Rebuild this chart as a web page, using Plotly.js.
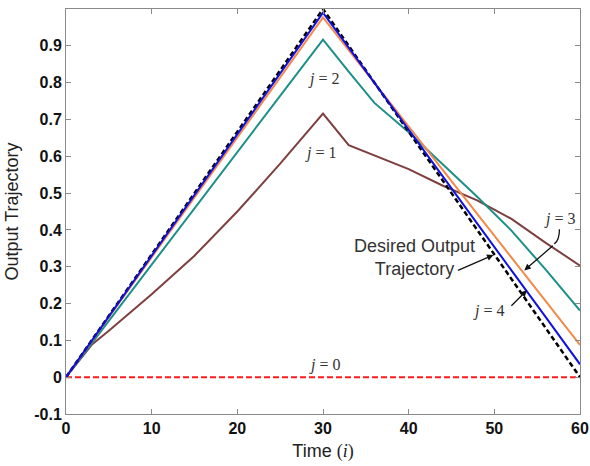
<!DOCTYPE html>
<html>
<head>
<meta charset="utf-8">
<script src="https://cdn.plot.ly/plotly-3.0.1.min.js"></script>
<style>html,body{margin:0;padding:0;background:#fff;}#chart{width:590px;height:466px;}</style>
</head>
<body>
<div id="chart"></div>
<script>
// ---- data ----
var time = [0, 3, 5, 10, 15, 20, 25, 30, 33, 36, 40, 44, 48, 52, 56, 60];
var desiredTime = [0, 30, 60];
var desired = [0, 1, 0];
var j0Time = [0, 60];
var j0 = [0, 0];
var j1 = [0, 0.088, 0.126, 0.225, 0.33, 0.45, 0.58, 0.716, 0.63, 0.603, 0.565, 0.52, 0.48, 0.43, 0.365, 0.303];
var j2 = [0, 0.092, 0.153, 0.306, 0.458, 0.611, 0.764, 0.917, 0.83, 0.745, 0.665, 0.578, 0.49, 0.398, 0.292, 0.181];
var j3 = [0, 0.098, 0.163, 0.326, 0.488, 0.651, 0.814, 0.977, 0.888, 0.799, 0.68, 0.562, 0.443, 0.325, 0.207, 0.088];
var j4 = [0, 0.099, 0.165, 0.33, 0.495, 0.66, 0.825, 0.99, 0.895, 0.8, 0.673, 0.545, 0.417, 0.29, 0.163, 0.035];
var yTickVals = [-0.1, 0, 0.1, 0.2, 0.3, 0.4, 0.5, 0.6, 0.7, 0.8, 0.9];
var yTickText = ['-0.1', '0', '0.1', '0.2', '0.3', '0.4', '0.5', '0.6', '0.7', '0.8', '0.9'];
var xTickVals = [0, 10, 20, 30, 40, 50, 60];

// ---- chart ----
var serif = '"Liberation Serif", "DejaVu Serif", serif';
var sans = 'Arial, "Liberation Sans", sans-serif';
var lab = {family: serif, size: 16, color: '#333'};

var traces = [
  {x: j0Time, y: j0, mode: 'lines', line: {color: '#ff1a1a', width: 2, dash: '6px,3px'}},
  {x: time, y: j1, mode: 'lines', line: {color: '#7f3f3f', width: 2}},
  {x: time, y: j2, mode: 'lines', line: {color: '#1b9088', width: 2}},
  {x: time, y: j3, mode: 'lines', line: {color: '#f28a4a', width: 2}},
  {x: desiredTime, y: desired, mode: 'lines', line: {color: '#000', width: 2.5, dash: '5px,3px'}},
  {x: time, y: j4, mode: 'lines', line: {color: '#1010e0', width: 2}}
];

var axisCommon = {
  showgrid: false, zeroline: false, showline: true, linecolor: '#8a8a8a', linewidth: 1,
  mirror: 'ticks', ticks: 'inside', ticklen: 5, tickcolor: '#8a8a8a',
  ticklabeloverflow: 'allow',
  tickfont: {family: sans, size: 16, color: '#111', weight: 'bold'}
};

var layout = {
  width: 590, height: 466,
  margin: {l: 66, r: 10, t: 9, b: 52},
  paper_bgcolor: '#fff', plot_bgcolor: '#fff',
  showlegend: false,
  xaxis: Object.assign({}, axisCommon, {
    range: [0, 60], tickvals: xTickVals,
    title: {text: 'Time <span style="font-family:Liberation Serif">(<i>i</i>)</span>', font: {family: sans, size: 18, color: '#222'}, standoff: 8}
  }),
  yaxis: Object.assign({}, axisCommon, {
    range: [-0.1, 1.0], tickvals: yTickVals, ticktext: yTickText,
    title: {text: 'Output Trajectory', font: {family: sans, size: 18, color: '#222'}, standoff: 10}
  }),
  shapes: [
    {type: 'path', xref: 'x', yref: 'y', path: 'M 57.6,0.402 Q 57.6,0.372 57.0,0.362', line: {color: '#111', width: 1.3}}
  ],
  annotations: [
    {x: 30, y: 0.81, text: '<i>j</i> = 2', showarrow: false, font: lab},
    {x: 29.7, y: 0.61, text: '<i>j</i> = 1', showarrow: false, font: lab},
    {x: 57.6, y: 0.43, text: '<i>j</i> = 3', showarrow: false, font: lab},
    {x: 30.2, y: 0.032, text: '<i>j</i> = 0', showarrow: false, font: lab},
    {x: 49.3, y: 0.18, text: '<i>j</i> = 4', showarrow: false, font: lab},
    {x: 40.7, y: 0.325, text: 'Desired Output<br>Trajectory', showarrow: false, align: 'center', font: {family: sans, size: 18, color: '#333'}},
    {x: 49.9, y: 0.332, ax: -37, ay: 16, text: '', showarrow: true, arrowhead: 2, arrowsize: 1, arrowwidth: 1.3, arrowcolor: '#111'},
    {x: 53.8, y: 0.236, ax: -17, ay: 17, text: '', showarrow: true, arrowhead: 2, arrowsize: 1, arrowwidth: 1.3, arrowcolor: '#111'},
    {x: 53.5, y: 0.29, ax: 30, ay: -26, text: '', showarrow: true, arrowhead: 2, arrowsize: 1, arrowwidth: 1.3, arrowcolor: '#111'}
  ]
};

Plotly.newPlot('chart', traces, layout, {displayModeBar: false, staticPlot: true});
</script>
</body>
</html>
